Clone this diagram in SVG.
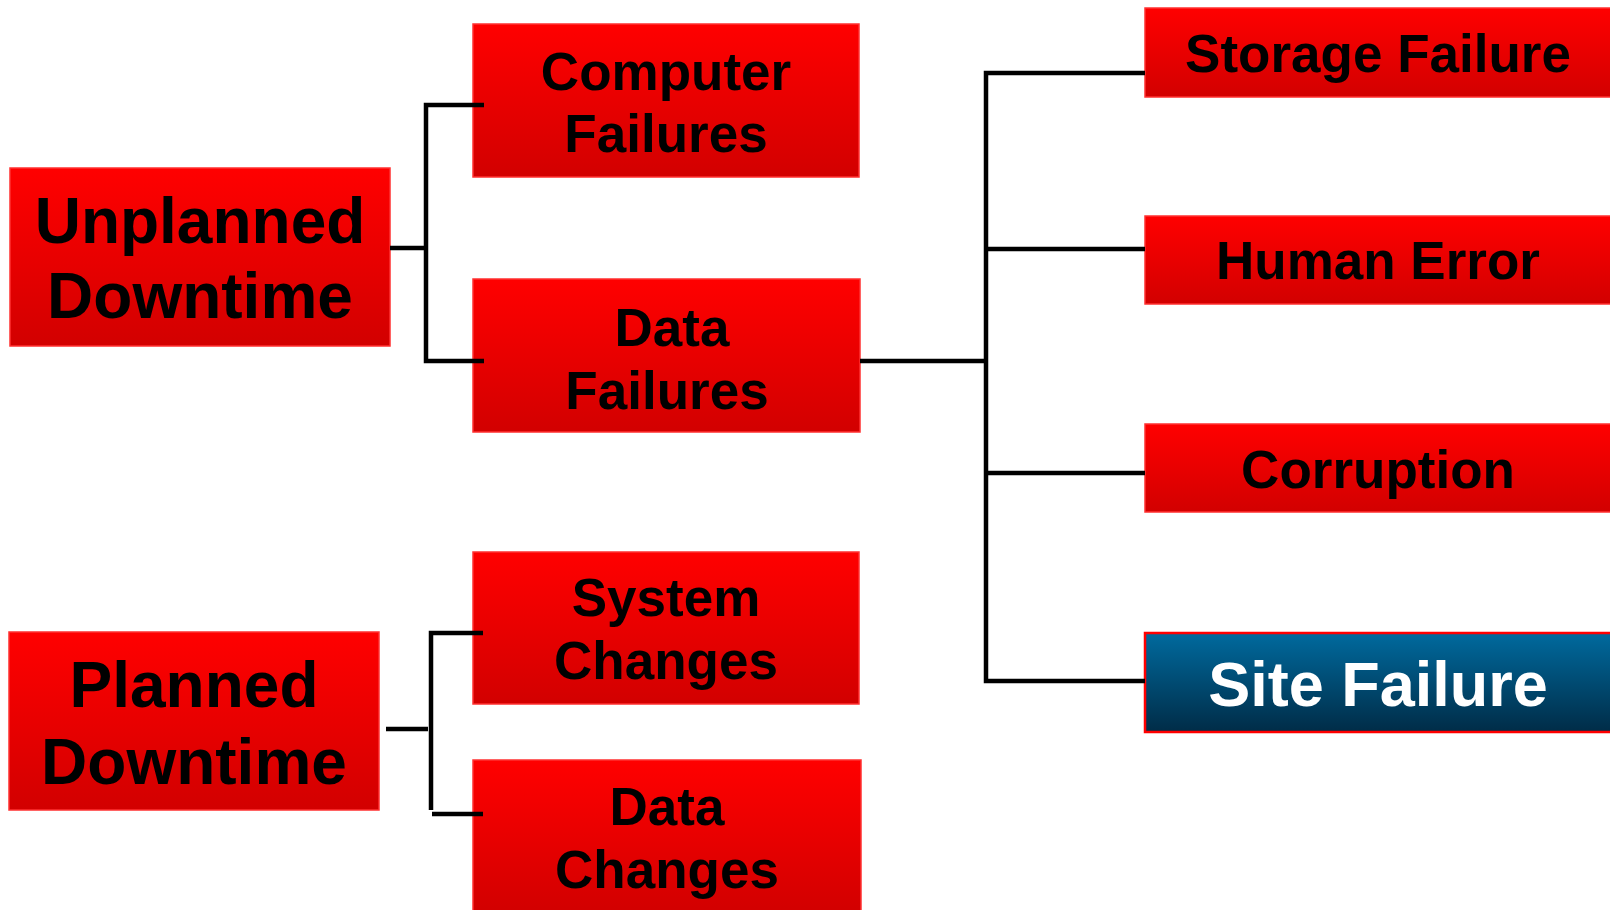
<svg xmlns="http://www.w3.org/2000/svg" width="1610" height="910" viewBox="0 0 1610 910">
<defs>
<linearGradient id="red" x1="0" y1="0" x2="0" y2="1">
<stop offset="0" stop-color="#ff0000"/>
<stop offset="1" stop-color="#d20000"/>
</linearGradient>
<linearGradient id="blue" x1="0" y1="0" x2="0" y2="1">
<stop offset="0" stop-color="#006a9e"/>
<stop offset="1" stop-color="#002c47"/>
</linearGradient>
<style>
.box{fill:url(#red);stroke:#ff3030;stroke-width:1.5}
.bbox{fill:url(#blue);stroke:#ff0000;stroke-width:2.5}
text{font-family:"Liberation Sans",Arial,sans-serif;font-weight:bold;text-anchor:middle;fill:#000}
.big{font-size:64px}
.mid{font-size:53px}
.site{font-size:63px;fill:#fff}
.conn{stroke:#000;stroke-width:4.5;fill:none}
</style>
</defs>
<rect width="1610" height="910" fill="#fff"/>
<g id="n-unplanned"><rect class="box" x="10" y="168" width="380" height="178"/><text class="big" x="200" y="243">Unplanned</text><text class="big" x="200" y="318">Downtime</text></g>
<g id="n-planned"><rect class="box" x="9" y="632" width="370" height="178"/><text class="big" x="194" y="707">Planned</text><text class="big" x="194" y="784">Downtime</text></g>
<g id="n-computer"><rect class="box" x="473" y="24" width="386" height="153"/><text class="mid" x="666" y="90">Computer</text><text class="mid" x="666" y="152">Failures</text></g>
<g id="n-datafail"><rect class="box" x="473" y="279" width="387" height="153"/><text class="mid" x="672" y="346">Data</text><text class="mid" x="667" y="409">Failures</text></g>
<g id="n-system"><rect class="box" x="473" y="552" width="386" height="152"/><text class="mid" x="666" y="616">System</text><text class="mid" x="666" y="679">Changes</text></g>
<g id="n-datachg"><rect class="box" x="473" y="760" width="388" height="152"/><text class="mid" x="667" y="825">Data</text><text class="mid" x="667" y="888">Changes</text></g>
<g id="n-storage"><rect class="box" x="1145" y="8" width="467" height="89"/><text class="mid" x="1378" y="72">Storage Failure</text></g>
<g id="n-human"><rect class="box" x="1145" y="216" width="467" height="88"/><text class="mid" x="1378" y="279">Human Error</text></g>
<g id="n-corruption"><rect class="box" x="1145" y="424" width="467" height="88"/><text class="mid" x="1378" y="488">Corruption</text></g>
<g id="n-site"><rect class="bbox" x="1145" y="633" width="467" height="99"/><text class="site" x="1378" y="706">Site Failure</text></g>
<g id="connectors">
<path class="conn" d="M390 248H425"/>
<path class="conn" d="M484 105H426V361H484"/>
<path class="conn" d="M386 729H428"/>
<path class="conn" d="M483 633H431V810"/>
<path class="conn" d="M432 814H483"/>
<path class="conn" d="M860 361H986"/>
<path class="conn" d="M1145 73H986V681H1145"/>
<path class="conn" d="M986 249H1145"/>
<path class="conn" d="M986 473H1145"/>
</g>
</svg>
